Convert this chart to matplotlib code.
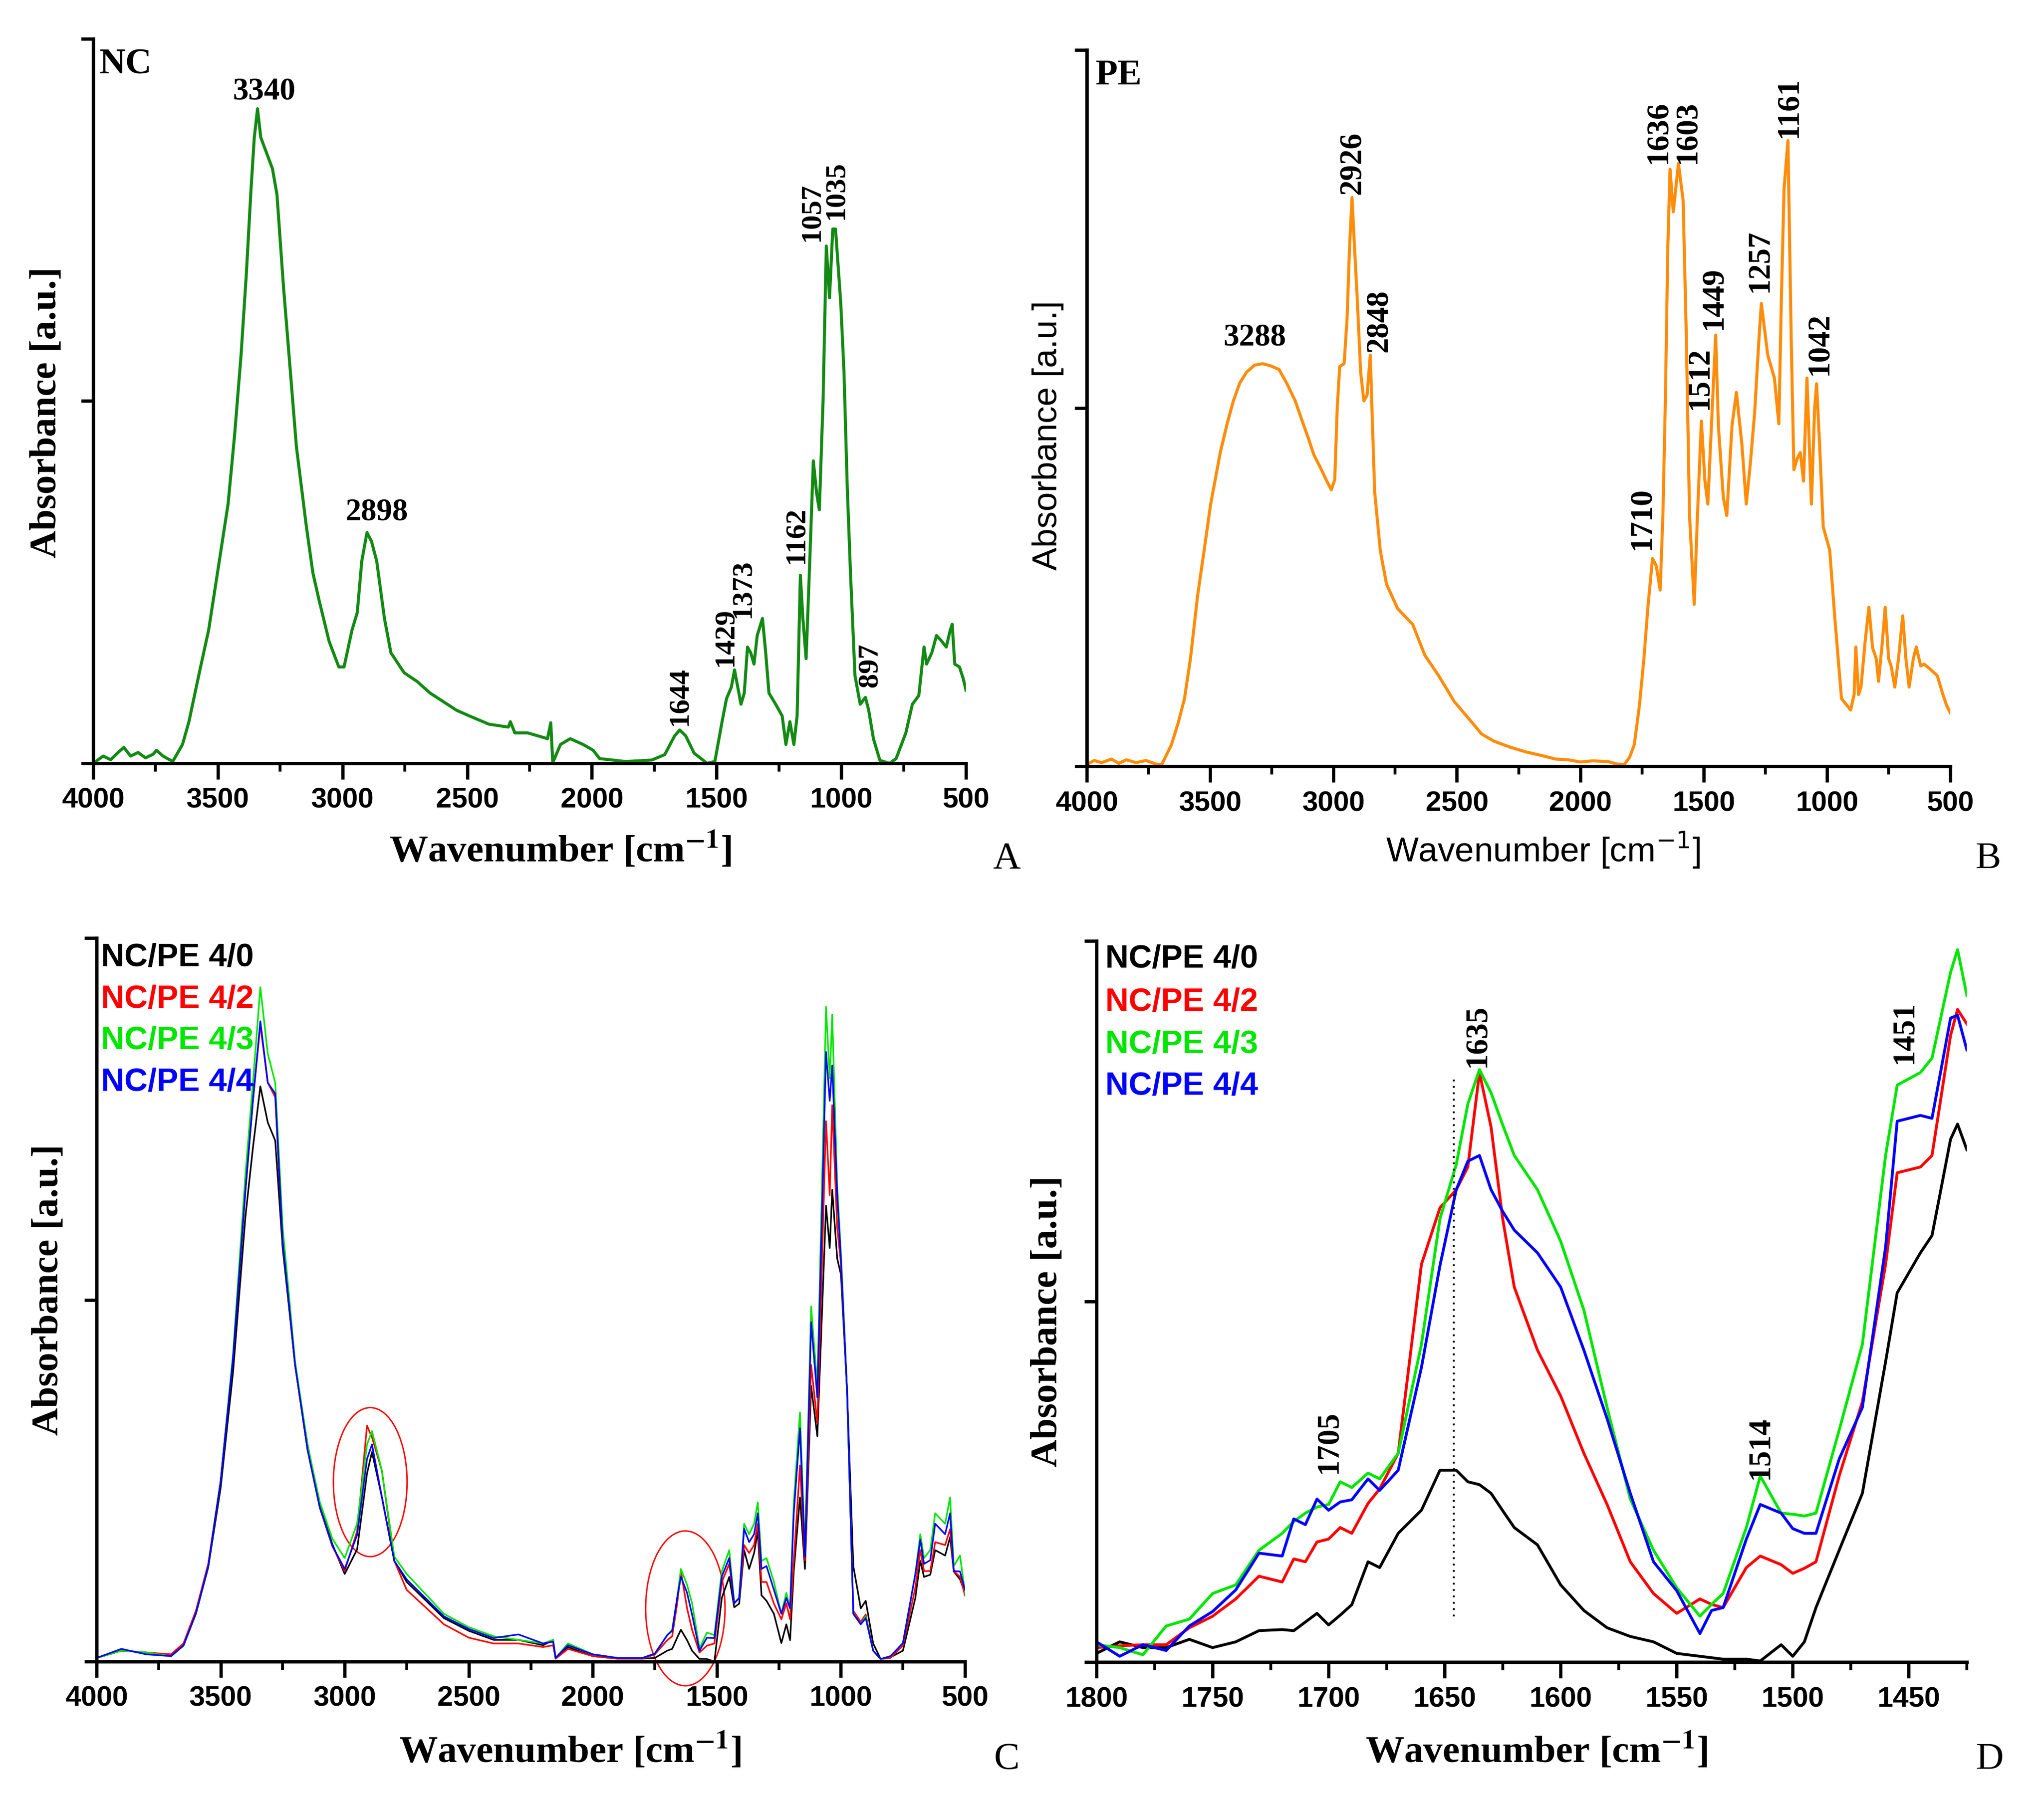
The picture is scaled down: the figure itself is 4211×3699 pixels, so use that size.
import matplotlib.pyplot as plt
from matplotlib.patches import Ellipse
from matplotlib.ticker import MultipleLocator

# ---- panel A: NC spectrum ----
nc_wn = [4000, 3960, 3930, 3900, 3877, 3850, 3820, 3790, 3760, 3746, 3720, 3681, 3642, 3616, 3577,
         3537, 3498, 3459, 3433, 3407, 3386, 3367, 3354, 3341, 3328, 3315, 3281, 3263, 3237, 3211,
         3185, 3145, 3119, 3093, 3054, 3015, 2994, 2962, 2941, 2923, 2902, 2884, 2863, 2832, 2806,
         2753, 2701, 2649, 2544, 2492, 2413, 2335, 2327, 2309, 2257, 2178, 2165, 2157, 2126, 2087,
         2035, 1995, 1969, 1865, 1760, 1708, 1668, 1648, 1624, 1590, 1538, 1507, 1478, 1460, 1441,
         1428, 1415, 1402, 1389, 1376, 1363, 1350, 1337, 1316, 1303, 1290, 1263, 1237, 1222, 1206,
         1190, 1177, 1164, 1154, 1141, 1128, 1112, 1099, 1088, 1073, 1060, 1047, 1034, 1023, 1002,
         989, 976, 963, 945, 924, 903, 890, 871, 845, 806, 780, 741, 715, 689, 668, 658, 637, 618,
         597, 579, 563, 555, 545, 526, 511, 500]
nc_abs = [0.0, 0.02, 0.01, 0.03, 0.044, 0.02, 0.03, 0.015, 0.025, 0.036, 0.02, 0.005, 0.052, 0.115, 0.242,
          0.368, 0.542, 0.716, 0.906, 1.127, 1.349, 1.586, 1.728, 1.807, 1.728, 1.704, 1.641, 1.57, 1.317, 1.096,
          0.874, 0.653, 0.526, 0.447, 0.337, 0.266, 0.266, 0.368, 0.416, 0.558, 0.637, 0.613, 0.558, 0.4, 0.305,
          0.25, 0.226, 0.194, 0.147, 0.131, 0.108, 0.1, 0.115, 0.084, 0.084, 0.068, 0.112, 0.002, 0.052, 0.068,
          0.052, 0.036, 0.013, 0.005, 0.009, 0.024, 0.076, 0.092, 0.076, 0.028, 0.0, 0.005, 0.115, 0.179, 0.21,
          0.258, 0.21, 0.163, 0.194, 0.321, 0.305, 0.274, 0.353, 0.4, 0.305, 0.194, 0.163, 0.131, 0.052, 0.115,
          0.052, 0.131, 0.519, 0.4, 0.289, 0.526, 0.835, 0.747, 0.7, 1.0, 1.428, 1.285, 1.475, 1.475, 1.27,
          1.08, 0.764, 0.526, 0.242, 0.163, 0.182, 0.147, 0.068, 0.008, 0.0, 0.013, 0.084, 0.163, 0.187, 0.321, 0.274, 0.305, 0.353,
          0.337, 0.321, 0.368, 0.384, 0.274, 0.266, 0.234, 0.202]
nc_peaks = [("1644", 1648, 0.103), ("1429", 1465, 0.266), ("1373", 1394, 0.40), ("1162", 1180, 0.55),
            ("1057", 1118, 1.44), ("1035", 1020, 1.50), ("897", 884, 0.21)]
nc_peaks_flat = [("3340", 3315, 1.815), ("2898", 2863, 0.653)]

# ---- panel B: PE spectrum ----
pe_wn = [4000, 3970, 3940, 3900, 3870, 3840, 3800, 3760, 3720, 3696, 3657, 3630, 3604, 3580, 3551,
         3525, 3498, 3459, 3430, 3406, 3380, 3353, 3320, 3287, 3255, 3221, 3190, 3155, 3130, 3102,
         3080, 3049, 3030, 3009, 2995, 2985, 2975, 2957, 2945, 2935, 2925, 2915, 2904, 2890, 2877,
         2864, 2851, 2842, 2833, 2810, 2785, 2740, 2679, 2630, 2574, 2510, 2442, 2400, 2350, 2283,
         2220, 2151, 2100, 2050, 2000, 1950, 1887, 1850, 1821, 1800, 1781, 1760, 1742, 1725, 1707,
         1692, 1676, 1665, 1655, 1645, 1636, 1623, 1602, 1583, 1570, 1557, 1538, 1525, 1509, 1495,
         1483, 1465, 1451, 1440, 1420, 1406, 1385, 1367, 1345, 1327, 1310, 1293, 1275, 1266, 1240,
         1213, 1195, 1185, 1174, 1158, 1145, 1134, 1120, 1108, 1095, 1081, 1063, 1050, 1042, 1030,
         1015, 989, 968, 941, 904, 890, 883, 872, 862, 845, 830, 815, 800, 791, 775, 764, 750, 740,
         725, 710, 693, 680, 667, 650, 638, 620, 606, 580, 553, 530, 515, 500]
pe_abs = [0.005, 0.016, 0.01, 0.02, 0.008, 0.018, 0.01, 0.016, 0.006, 0.005, 0.06, 0.12, 0.189, 0.3, 0.476,
          0.6, 0.732, 0.876, 0.96, 1.02, 1.07, 1.1, 1.12, 1.124, 1.118, 1.108, 1.07, 1.02, 0.97, 0.916,
          0.87, 0.828, 0.8, 0.772, 0.8, 1.0, 1.116, 1.124, 1.25, 1.45, 1.588, 1.45, 1.308, 1.1, 1.02,
          1.036, 1.148, 0.95, 0.764, 0.6, 0.508, 0.44, 0.396, 0.31, 0.253, 0.18, 0.125, 0.09, 0.07, 0.053,
          0.04, 0.029, 0.02, 0.018, 0.012, 0.015, 0.013, 0.006, 0.005, 0.025, 0.06, 0.17, 0.3, 0.45, 0.58,
          0.56, 0.492, 0.7, 1.02, 1.45, 1.667, 1.548, 1.683, 1.58, 1.2, 0.7, 0.452, 0.7, 0.964, 0.8,
          0.732, 1.0, 1.204, 0.95, 0.75, 0.7, 0.95, 1.044, 0.9, 0.732, 0.85, 0.988, 1.2, 1.292, 1.148,
          1.084, 0.956, 1.3, 1.611, 1.747, 1.2, 0.828, 0.86, 0.876, 0.796, 1.084, 0.732, 1.0, 1.068, 0.9,
          0.668, 0.604, 0.412, 0.189, 0.157, 0.2, 0.333, 0.2, 0.221, 0.35, 0.444, 0.33, 0.3, 0.237, 0.35, 0.444, 0.3, 0.28,
          0.221, 0.3, 0.42, 0.3, 0.221, 0.3, 0.333, 0.28, 0.285, 0.27, 0.253, 0.2, 0.17, 0.149]
pe_peaks = [("2926", 2925, 1.596), ("2848", 2817, 1.156), ("1710", 1750, 0.604), ("1636", 1684, 1.683),
            ("1603", 1565, 1.683), ("1512", 1517, 0.996), ("1449", 1459, 1.22), ("1257", 1272, 1.324),
            ("1161", 1155, 1.755), ("1042", 1031, 1.092)]
pe_peaks_flat = [("3288", 3319, 1.156)]

# ---- panel C: NC/PE blends, full range ----
series_names = ["NC/PE 4/0", "NC/PE 4/2", "NC/PE 4/3", "NC/PE 4/4"]
series_colors = ["black", "#ff0000", "#00e600", "#0000ff"]

c_wn = [4000, 3900, 3800, 3700, 3650, 3600, 3550, 3500, 3450, 3400, 3370, 3340, 3310, 3280, 3250,
        3200, 3150, 3100, 3050, 3000, 2950, 2910, 2890, 2850, 2800, 2750, 2600, 2500, 2400, 2300,
        2200, 2160, 2150, 2100, 2000, 1900, 1800, 1750, 1700, 1680, 1660, 1645, 1620, 1600, 1570,
        1540, 1510, 1480, 1450, 1430, 1410, 1390, 1370, 1350, 1335, 1320, 1300, 1270, 1240, 1220,
        1205, 1190, 1165, 1145, 1120, 1095, 1060, 1045, 1035, 1015, 1000, 975, 950, 920, 900,
        870, 840, 800, 750, 700, 680, 665, 640, 620, 580, 560, 545, 520, 500]
c_40 = [0.01, 0.03, 0.025, 0.015, 0.044, 0.132, 0.26, 0.48, 0.8, 1.23, 1.42, 1.59, 1.49, 1.44, 1.143,
        0.82, 0.6, 0.43, 0.325, 0.242, 0.31, 0.52, 0.579, 0.454, 0.278, 0.22, 0.12, 0.085, 0.06, 0.06,
        0.045, 0.06, 0.008, 0.04, 0.015, 0.008, 0.008, 0.01, 0.03, 0.035, 0.066, 0.088, 0.059, 0.03, 0.007,
        0.007, 0.0, 0.176, 0.234, 0.15, 0.16, 0.308, 0.256, 0.3, 0.359, 0.183, 0.168, 0.132, 0.051, 0.103,
        0.059, 0.25, 0.454, 0.256, 0.762, 0.623, 1.26, 1.143, 1.304, 1.114, 1.07, 0.747, 0.264, 0.147, 0.168,
        0.05, 0.007, 0.012, 0.03, 0.176, 0.278, 0.234, 0.24, 0.308, 0.293, 0.344, 0.249, 0.227, 0.19]
c_42 = [0.01, 0.03, 0.025, 0.02, 0.05, 0.14, 0.27, 0.5, 0.84, 1.3, 1.55, 1.76, 1.6, 1.56, 1.16,
        0.82, 0.586, 0.425, 0.32, 0.25, 0.36, 0.652, 0.62, 0.527, 0.278, 0.198, 0.103, 0.066, 0.05, 0.05,
        0.04, 0.045, 0.008, 0.035, 0.015, 0.008, 0.008, 0.02, 0.059, 0.07, 0.16, 0.249, 0.147, 0.088, 0.025,
        0.044, 0.05, 0.22, 0.27, 0.161, 0.176, 0.322, 0.3, 0.322, 0.381, 0.22, 0.22, 0.16, 0.117, 0.161,
        0.117, 0.278, 0.542, 0.28, 0.82, 0.66, 1.494, 1.289, 1.538, 1.2, 1.1, 0.747, 0.14, 0.11, 0.13,
        0.03, 0.007, 0.01, 0.044, 0.205, 0.308, 0.25, 0.25, 0.33, 0.322, 0.366, 0.25, 0.234, 0.183]
c_43 = [0.01, 0.03, 0.025, 0.015, 0.044, 0.132, 0.264, 0.498, 0.85, 1.348, 1.6, 1.864, 1.68, 1.6, 1.2,
        0.83, 0.6, 0.44, 0.34, 0.286, 0.381, 0.6, 0.637, 0.527, 0.29, 0.242, 0.132, 0.095, 0.07, 0.06,
        0.05, 0.06, 0.01, 0.05, 0.02, 0.01, 0.01, 0.022, 0.073, 0.088, 0.176, 0.256, 0.212, 0.161, 0.037,
        0.08, 0.073, 0.25, 0.308, 0.161, 0.176, 0.381, 0.352, 0.381, 0.44, 0.278, 0.286, 0.22, 0.132, 0.19,
        0.147, 0.44, 0.689, 0.308, 0.982, 0.762, 1.81, 1.612, 1.788, 1.319, 1.128, 0.747, 0.132, 0.103, 0.125,
        0.03, 0.007, 0.015, 0.051, 0.242, 0.352, 0.286, 0.308, 0.41, 0.381, 0.454, 0.264, 0.293, 0.19]
c_44 = [0.01, 0.035, 0.02, 0.015, 0.044, 0.132, 0.264, 0.498, 0.84, 1.304, 1.55, 1.77, 1.6, 1.57, 1.16,
        0.82, 0.586, 0.425, 0.32, 0.256, 0.35, 0.56, 0.6, 0.454, 0.278, 0.227, 0.125, 0.09, 0.065, 0.075,
        0.05, 0.055, 0.01, 0.045, 0.02, 0.01, 0.01, 0.022, 0.073, 0.085, 0.176, 0.234, 0.19, 0.13, 0.03,
        0.066, 0.065, 0.235, 0.286, 0.161, 0.176, 0.367, 0.33, 0.352, 0.41, 0.256, 0.264, 0.198, 0.132, 0.176,
        0.147, 0.41, 0.645, 0.29, 0.938, 0.73, 1.685, 1.55, 1.648, 1.29, 1.114, 0.747, 0.132, 0.103, 0.12,
        0.03, 0.007, 0.015, 0.051, 0.242, 0.337, 0.27, 0.28, 0.381, 0.352, 0.41, 0.25, 0.249, 0.198]

# ---- panel D: NC/PE blends, 1800-1425 cm-1 ----
d_wn = [1800, 1790, 1780, 1770, 1760, 1750, 1740, 1730, 1720, 1715, 1710, 1705, 1700, 1695, 1690,
        1683, 1678, 1670, 1660, 1652, 1645, 1640, 1635, 1630, 1625, 1620, 1610, 1600, 1590, 1580,
        1570, 1560, 1550, 1540, 1535, 1530, 1520, 1514, 1505, 1500, 1495, 1490, 1480, 1470, 1460,
        1455, 1445, 1440, 1432, 1429, 1425]
d_40 = [0.024, 0.056, 0.04, 0.04, 0.063, 0.04, 0.056, 0.087, 0.09, 0.087, 0.111, 0.135, 0.103, 0.13, 0.159,
        0.278, 0.262, 0.357, 0.421, 0.532, 0.532, 0.5, 0.492, 0.468, 0.42, 0.373, 0.325, 0.214, 0.143, 0.095,
        0.071, 0.056, 0.024, 0.016, 0.012, 0.008, 0.008, 0.003, 0.048, 0.016, 0.056, 0.151, 0.31, 0.468, 0.833,
        1.024, 1.135, 1.183, 1.45, 1.492, 1.421]
d_42 = [0.04, 0.045, 0.048, 0.048, 0.095, 0.127, 0.175, 0.238, 0.222, 0.286, 0.278, 0.333, 0.341, 0.373, 0.357,
        0.44, 0.48, 0.579, 1.103, 1.26, 1.31, 1.373, 1.635, 1.484, 1.23, 1.04, 0.865, 0.738, 0.579, 0.437,
        0.278, 0.19, 0.135, 0.175, 0.16, 0.151, 0.262, 0.294, 0.27, 0.246, 0.26, 0.278, 0.516, 0.722, 1.103,
        1.357, 1.373, 1.405, 1.738, 1.81, 1.77]
d_43 = [0.048, 0.04, 0.02, 0.1, 0.119, 0.19, 0.214, 0.31, 0.357, 0.39, 0.413, 0.43, 0.437, 0.5, 0.484,
        0.524, 0.508, 0.579, 0.881, 1.23, 1.38, 1.548, 1.643, 1.579, 1.49, 1.405, 1.31, 1.167, 0.976, 0.706,
        0.452, 0.31, 0.206, 0.127, 0.16, 0.19, 0.373, 0.516, 0.413, 0.41, 0.405, 0.413, 0.643, 0.881, 1.405,
        1.6, 1.635, 1.675, 1.913, 1.976, 1.849]
d_44 = [0.056, 0.016, 0.048, 0.032, 0.1, 0.14, 0.2, 0.302, 0.294, 0.397, 0.381, 0.452, 0.421, 0.444, 0.45,
        0.508, 0.476, 0.532, 0.817, 1.1, 1.31, 1.389, 1.405, 1.31, 1.25, 1.198, 1.135, 1.04, 0.865, 0.675,
        0.468, 0.278, 0.198, 0.079, 0.143, 0.151, 0.341, 0.437, 0.413, 0.37, 0.357, 0.357, 0.563, 0.706, 1.151,
        1.5, 1.516, 1.508, 1.786, 1.794, 1.698]
d_peaks = [("1705", 1700, 0.524), ("1635", 1636, 1.65), ("1514", 1514, 0.508), ("1451", 1452, 1.659)]
d_marker_wn = 1646

W, H = 4211, 3699
SERIF = ['Liberation Serif', 'DejaVu Serif']
SANS = ['Liberation Sans', 'DejaVu Sans']

fig = plt.figure(figsize=(W / 300, H / 300), dpi=300)


def px_text(x, y, s, **kw):
    # position given in picture pixels
    return fig.text(x / W, 1 - y / H, s, **kw)


def make_axes(box, xlim, major, minor):
    l, t, r, b = box
    ax = fig.add_axes([l / W, 1 - b / H, (r - l) / W, (b - t) / H])
    ax.set_xlim(*xlim)
    ax.set_ylim(0, 2)
    for s in ['top', 'right']:
        ax.spines[s].set_visible(False)
    for s in ['left', 'bottom']:
        ax.spines[s].set_linewidth(1.7)
    ax.xaxis.set_major_locator(MultipleLocator(major))
    ax.xaxis.set_minor_locator(MultipleLocator(minor))
    ax.set_yticks([0, 1, 2])
    ax.set_yticklabels([])
    ax.tick_params(axis='x', which='major', direction='out', length=8, width=1.6, pad=4)
    ax.tick_params(axis='x', which='minor', direction='out', length=4, width=1.4)
    ax.tick_params(axis='y', which='major', direction='out', length=6, width=1.6)
    for lab in ax.get_xticklabels():
        lab.set_fontfamily(SANS)
        lab.set_fontweight('bold')
        lab.set_fontsize(14)
    return ax


def peak_labels(ax, peaks, rotation, size=15.5):
    for txt, x, y in peaks:
        ax.text(x, y, txt, rotation=rotation, ha='center', va='bottom',
                family=SERIF, fontweight='bold', fontsize=size)


xlab_serif = r'Wavenumber [cm$^{\mathbf{-1}}$]'

# A
axA = make_axes((192, 80, 1990, 1573), (4000, 500), 500, 250)
axA.plot(nc_wn, nc_abs, color='#138a13', lw=1.5)
peak_labels(axA, nc_peaks, 90, size=14.5)
peak_labels(axA, nc_peaks_flat, 0)
px_text(205, 100, 'NC', family=SERIF, fontweight='bold', fontsize=18, va='top')
px_text(1155, 1752, xlab_serif, family=SERIF, fontweight='bold', fontsize=19,
        ha='center', va='center', math_fontfamily='stix')
px_text(97, 850, 'Absorbance [a.u.]', family=SERIF, fontweight='bold', fontsize=19,
        rotation=90, ha='center', va='center')
px_text(2074, 1770, 'A', family=SERIF, fontsize=19, ha='center', va='center')

# B
axB = make_axes((2239, 103, 4018, 1579), (4000, 500), 500, 250)
axB.plot(pe_wn, pe_abs, color='#ff8c0a', lw=1.5)
peak_labels(axB, pe_peaks, 90)
peak_labels(axB, pe_peaks_flat, 0)
px_text(2257, 122, 'PE', family=SERIF, fontweight='bold', fontsize=18, va='top')
px_text(3179, 1752, r'Wavenumber [cm$^{-1}$]', family=SANS, fontsize=17,
        ha='center', va='center', math_fontfamily='dejavusans')
px_text(2159, 897, 'Absorbance [a.u.]', family=SANS, fontsize=17,
        rotation=90, ha='center', va='center')
px_text(4096, 1770, 'B', family=SERIF, fontsize=19, ha='center', va='center')

# C
axC = make_axes((199, 1933, 1988, 3424), (4000, 500), 500, 250)
for ys, col in zip([c_40, c_42, c_43, c_44], series_colors):
    axC.plot(c_wn, ys, color=col, lw=0.8)
axC.add_patch(Ellipse((2897, 0.496), 297, 0.412, fill=False, ec='#ff0000', lw=0.7, clip_on=False))
axC.add_patch(Ellipse((1627, 0.147), 320, 0.428, fill=False, ec='#ff0000', lw=0.7, clip_on=False))
for i, (name, col) in enumerate(zip(series_names, series_colors)):
    px_text(208, [1974, 2060, 2145, 2231][i], name, color=col, family=SANS,
            fontweight='bold', fontsize=16, va='center')
px_text(1175, 3608, xlab_serif, family=SERIF, fontweight='bold', fontsize=19,
        ha='center', va='center', math_fontfamily='stix')
px_text(101, 2658, 'Absorbance [a.u.]', family=SERIF, fontweight='bold', fontsize=19,
        rotation=90, ha='center', va='center')
px_text(2074, 3626, 'C', family=SERIF, fontsize=19, ha='center', va='center')

# D
axD = make_axes((2259, 1939, 4052, 3425), (1800, 1425), 50, 25)
for ys, col in zip([d_40, d_42, d_43, d_44], series_colors):
    axD.plot(d_wn, ys, color=col, lw=1.4)
axD.plot([d_marker_wn, d_marker_wn], [0.127, 1.627], color='black', lw=0.9, ls=(0, (1, 2.5)))
peak_labels(axD, d_peaks, 90)
for i, (name, col) in enumerate(zip(series_names, series_colors)):
    px_text(2277, [1977, 2066, 2153, 2239][i], name, color=col, family=SANS,
            fontweight='bold', fontsize=16, va='center')
px_text(3166, 3608, xlab_serif, family=SERIF, fontweight='bold', fontsize=19,
        ha='center', va='center', math_fontfamily='stix')
px_text(2159, 2723, 'Absorbance [a.u.]', family=SERIF, fontweight='bold', fontsize=19,
        rotation=90, ha='center', va='center')
px_text(4099, 3626, 'D', family=SERIF, fontsize=19, ha='center', va='center')

fig.savefig('out.png', dpi=300)
print("saved out.png")
